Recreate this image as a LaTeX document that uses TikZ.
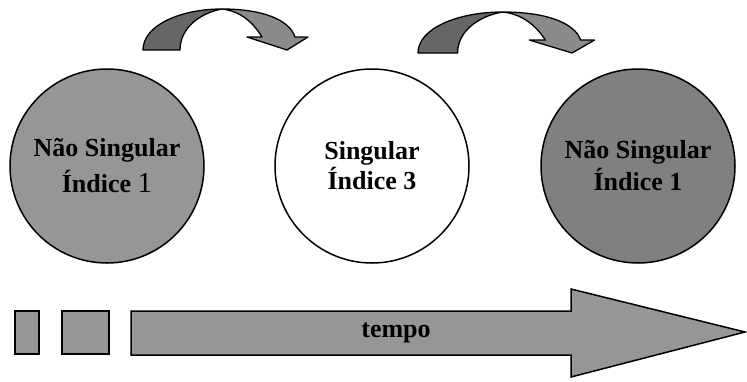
\documentclass[tikz,border=0pt]{standalone}
\usepackage{fontspec}
\setmainfont{Liberation Serif}
\definecolor{fillA}{HTML}{969696}
\definecolor{fillB}{HTML}{808080}
\definecolor{arcDark}{HTML}{666666}
\definecolor{arcLight}{HTML}{8A8A8A}
\newcommand\bentarrow[3]{%
  \begin{scope}[shift={(#1,#2)}, xscale=#3]
    \draw[arcline, fill=arcDark] (0,0) .. controls (0,-25) and (38,-41) .. (79,-41)
      .. controls (57,-37) and (37,-22) .. (37,0) -- cycle;
    \draw[arcline, fill=arcLight] (79,-41) .. controls (118,-41) and (146,-31) .. (152,-13)
      -- (165,-13) -- (144,0) -- (104,-13) -- (119,-13)
      .. controls (110,-28) and (97,-39) .. (79,-41) -- cycle;
  \end{scope}}
\begin{document}
\begin{tikzpicture}[x=1pt,y=-1pt,
  circ/.style={circle, draw=black, line width=1.5pt, minimum size=194pt, inner sep=0pt,
    align=center, font=\fontsize{26}{32}\selectfont\bfseries},
  shapeline/.style={draw=black, line width=1.5pt, line join=miter},
  arcline/.style={draw=black, line width=1.3pt, line join=round},
  lbl/.style={font=\fontsize{26}{30}\selectfont\bfseries}]
\useasboundingbox (0,0) rectangle (747,381);
% bent arrows
\bentarrow{143}{50}{1}
\bentarrow{418}{53}{1.07}
% circles
\node[circ, fill=fillA] (c1) at (107,166) {Não Singular\\[4pt]Índice {\mdseries\fontsize{29}{32}\selectfont 1}};
\node[circ, fill=white] (c2) at (372,166) {Singular\\[-2pt]Índice 3};
\node[circ, fill=fillB] (c3) at (638,166) {Não Singular\\Índice 1};
% time arrow
\draw[shapeline, fill=fillA] (15,311) rectangle (39,354);
\draw[shapeline, fill=fillA] (62,311) rectangle (109,354);
\draw[shapeline, fill=fillA] (131,311) -- (571,311) -- (571,289) -- (745,332)
  -- (571,377) -- (571,355) -- (131,355) -- cycle;
\node[lbl] (tempo) at (396,333) {tempo};
\end{tikzpicture}
\end{document}
